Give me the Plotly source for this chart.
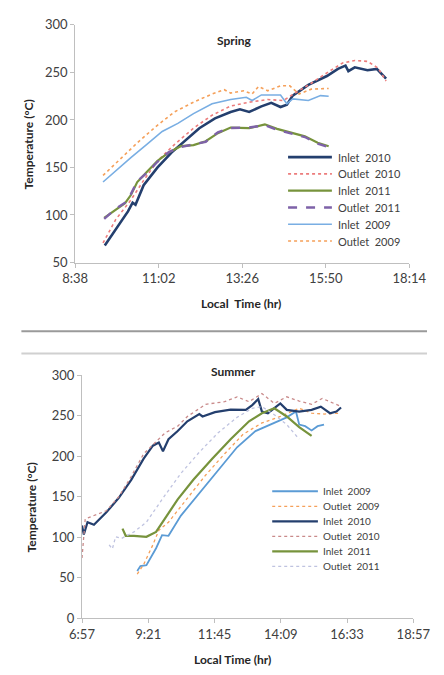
import plotly.graph_objects as go

# ---------------- DATA ----------------
# Spring
sp_in10_t = ["9:29","9:48","10:09","10:17","10:22","10:36","11:00","11:24","11:46","12:12","12:39","13:06","13:22","13:38","13:59","14:16","14:32","14:43","14:53","15:20","15:52","16:11","16:24","16:29","16:40","17:02","17:18","17:34"]
sp_in10_v = [67.8,85,103.8,113,110.7,131.3,150,165.6,177.6,191.3,201.6,208.4,211.2,208.4,214.3,218,213.6,216,225.6,236.9,246.2,253.7,257.1,251.3,255.4,252.3,253.7,243.4]

sp_out10_t = ["9:26","9:48","10:14","10:36","11:00","11:29","12:02","12:34","13:06","13:38","14:10","14:37","14:59","15:25","15:52","16:19","16:40","17:02","17:20","17:34"]
sp_out10_v = [70.6,95.3,115.8,136.4,157,174.1,191.3,205,214.6,218.7,221.5,220.4,229,238.6,249.6,259.9,262.6,261.6,254.7,241]

sp_in11_t = ["9:28","9:48","10:04","10:14","10:25","10:41","11:00","11:19","11:40","12:02","12:23","12:44","13:06","13:38","14:05","14:26","14:53","15:14","15:36","15:55"]
sp_in11_v = [97,105.6,112.4,121,134.7,145,157,165.6,172.4,173.5,177.6,186.1,192,191.3,195.4,190.6,186.1,182.7,175.9,172.4]

sp_out11_t = ["9:28","9:48","10:04","10:14","10:25","10:41","11:00","11:19","11:40","12:02","12:23","12:44","13:06","13:38","14:05","14:26","14:53","15:14","15:36","15:55"]
sp_out11_v = [96,106.5,113,122,135.5,144,156,166,171.5,174,177,187,191.5,192,194.5,189.5,185,182,175,171.5]

sp_in09_t = ["9:26","9:48","10:14","10:41","11:08","11:35","12:02","12:34","13:06","13:33","13:43","13:59","14:32","14:43","14:53","15:20","15:41","15:55"]
sp_in09_v = [134.7,146.7,160.4,174.1,187.9,196.4,206.7,217,221.5,223.9,220.4,226.3,226.3,217,222.2,220.4,225.6,224.9]

sp_out09_t = ["9:26","9:53","10:25","10:57","11:29","12:02","12:34","12:55","13:06","13:28","13:43","13:54","14:10","14:32","14:48","15:04","15:25","15:55"]
sp_out09_v = [141.6,157,175.9,193,208.4,218.7,227.3,231.8,228.3,230.7,227.3,235.2,230.7,235.9,235.9,227.3,232.4,233.1]

# Summer
su_in09_t = ["8:57","9:04","9:17","9:38","9:51","10:05","10:32","11:12","11:53","12:34","13:14","13:55","14:22","14:42","14:49","15:02","15:16","15:29","15:43"]
su_in09_v = [58.6,64.6,65.8,86.6,102.7,101.9,126.8,154.8,182.9,211,231,241,247.9,255.1,239,237,231.8,237,239]

su_out09_t = ["8:57","9:11","9:31","9:44","10:05","10:46","11:26","12:07","12:47","13:28","14:08","14:49","15:16","15:43","16:16"]
su_out09_v = [54.6,66.6,90.7,108.7,118.7,148.8,176.9,203,227,241,249,259.1,253,252,253]

su_in10_t = ["6:57","7:01","7:09","7:23","7:50","8:17","8:44","9:11","9:31","9:44","9:53","10:05","10:25","10:46","11:12","11:19","11:46","12:20","12:53","13:07","13:20","13:28","13:41","14:08","14:22","14:49","15:16","15:36","15:56","16:10","16:20"]
su_in10_v = [114.7,103.5,118.7,115.5,130.8,148.8,170.9,197,213,217,206.2,221,231,243,251.9,249,254.3,257.5,257.1,263,270.4,255.1,253,265.1,257.1,255.1,257.1,261.1,253,255.1,260]

su_out10_t = ["6:57","7:04","7:50","8:17","8:44","9:11","9:58","10:25","10:46","11:26","12:07","12:34","13:00","13:28","13:55","14:22","14:49","15:16","15:39","16:16"]
su_out10_v = [74.6,122.7,132.8,150,175,203,229,237,249,264,267.2,273.2,267.2,277.2,265.1,273.2,268,264,271.2,262.3]

su_in11_t = ["8:25","8:32","8:50","9:17","9:38","9:58","10:25","10:59","11:40","12:20","13:00","13:28","13:55","14:22","14:49","15:16"]
su_in11_v = [110.7,101.9,101.9,100.7,106.7,123.5,146.8,170.9,197,221,243,253,259.1,249,235.9,225]

su_out11_t = ["7:56","8:03","8:10","8:23","8:50","9:17","9:51","10:32","11:12","11:53","12:34","13:07","13:28","13:55","14:22","14:49"]
su_out11_v = [90.7,85.8,100.7,98.7,106.7,118.7,146.8,178.9,205,229,247.9,259.1,261.1,251.1,239,221]

sp_ticks = ["8:38","11:02","13:26","15:50","18:14"]
su_ticks = ["6:57","9:21","11:45","14:09","16:33","18:57"]


def hrs(lst):
    out = []
    for s in lst:
        h, m = s.split(":")
        out.append(int(h) + int(m) / 60.0)
    return out


FONT = "Lato"
TXT = "#404040"
fig = go.Figure()

NAVY = "#243F6E"
GREEN = "#77933C"

W, H = 444, 675
def px(x): return x / W
def py(y): return 1 - y / H

# Spring traces (legend order)
spring = [
    ("Inlet\u00a0 2010", sp_in10_t, sp_in10_v, dict(color=NAVY, width=2.6, dash="solid")),
    ("Outlet\u00a0 2010", sp_out10_t, sp_out10_v, dict(color="#EC7C7C", width=1.6, dash="dot")),
    ("Inlet\u00a0 2011", sp_in11_t, sp_in11_v, dict(color=GREEN, width=2.2, dash="solid")),
    ("Outlet\u00a0 2011", sp_out11_t, sp_out11_v, dict(color="#7E62A8", width=2.4, dash="dash")),
    ("Inlet\u00a0 2009", sp_in09_t, sp_in09_v, dict(color="#79AEE3", width=1.6, dash="solid")),
    ("Outlet\u00a0 2009", sp_out09_t, sp_out09_v, dict(color="#F5A05A", width=1.6, dash="dot")),
]
summer = [
    ("Inlet\u00a0 2009", su_in09_t, su_in09_v, dict(color="#5B9BD5", width=1.8, dash="solid")),
    ("Outlet\u00a0 2009", su_out09_t, su_out09_v, dict(color="#F5A05A", width=1.3, dash="dot")),
    ("Inlet\u00a0 2010", su_in10_t, su_in10_v, dict(color=NAVY, width=2.2, dash="solid")),
    ("Outlet\u00a0 2010", su_out10_t, su_out10_v, dict(color="#C98A8A", width=1.3, dash="dot")),
    ("Inlet\u00a0 2011", su_in11_t, su_in11_v, dict(color=GREEN, width=2.2, dash="solid")),
    ("Outlet\u00a0 2011", su_out11_t, su_out11_v, dict(color="#BFC3E0", width=1.3, dash="dot")),
]

for name, t, v, ln in spring:
    fig.add_trace(go.Scatter(x=hrs(t), y=v, mode="lines", name=name, line=ln,
                             xaxis="x", yaxis="y", showlegend=False))
for name, t, v, ln in summer:
    fig.add_trace(go.Scatter(x=hrs(t), y=v, mode="lines", name=name, line=ln,
                             xaxis="x2", yaxis="y2", showlegend=False))

# compact legends (line sample + label), spaced like the original
def add_legend(entries, x0, x1, xt, y0, dy, fsize):
    for i, (name, _t, _v, ln) in enumerate(entries):
        y = y0 + dy * i
        fig.add_shape(type="line", xref="paper", yref="paper",
                      x0=px(x0), x1=px(x1), y0=py(y), y1=py(y),
                      line=dict(color=ln["color"], width=ln["width"], dash=ln["dash"]))
        fig.add_annotation(text=name, x=px(xt), y=py(y), xref="paper", yref="paper",
                           showarrow=False, xanchor="left", yanchor="middle",
                           font=dict(family=FONT, size=fsize, color=TXT))

add_legend(spring, 295, 342, 346, 152.7, 17.2, 11)
add_legend(summer, 278, 327, 330, 495, 15.4, 10)

axis_common = dict(showgrid=False, zeroline=False, showline=True, linecolor="#BFBFBF",
                   linewidth=1, ticks="outside", ticklen=4, tickcolor="#BFBFBF",
                   tickfont=dict(family=FONT, size=13, color=TXT))

sp_tv = hrs(sp_ticks)
su_tv = hrs(su_ticks)

fig.update_layout(
    width=W, height=H, margin=dict(l=0, r=0, t=0, b=0),
    paper_bgcolor="white", plot_bgcolor="white",
    font=dict(family=FONT, color=TXT),
    xaxis=dict(domain=[px(66.7), px(425)], range=[sp_tv[0], sp_tv[-1]], anchor="y",
               tickvals=sp_tv, ticktext=sp_ticks, **axis_common),
    yaxis=dict(domain=[py(260.7), py(17.3)], range=[50, 300], dtick=50, anchor="x",
               **axis_common),
    xaxis2=dict(domain=[px(74), px(429.3)], range=[su_tv[0], su_tv[-1]], anchor="y2",
                tickvals=su_tv, ticktext=su_ticks, **axis_common),
    yaxis2=dict(domain=[py(625.3), py(376)], range=[0, 300], dtick=50, anchor="x2",
                **axis_common),
    showlegend=False,
)

ann = [
    dict(text="<b>Spring</b>", x=px(238), y=py(33), size=12),
    dict(text="<b>Local  Time (hr)</b>", x=px(245), y=py(303), size=12),
    dict(text="<b>Summer</b>", x=px(237), y=py(372), size=12),
    dict(text="<b>Local Time (hr)</b>", x=px(235), y=py(667), size=12),
]
for a in ann:
    fig.add_annotation(text=a["text"], x=a["x"], y=a["y"], xref="paper", yref="paper",
                       showarrow=False, xanchor="center", yanchor="middle",
                       font=dict(family=FONT, size=a["size"], color="#262626"))
fig.add_annotation(text="<b>Temperature (°C)</b>", x=px(17), y=py(140), xref="paper", yref="paper",
                   showarrow=False, textangle=-90, xanchor="center", yanchor="middle",
                   font=dict(family=FONT, size=12, color="#262626"))
fig.add_annotation(text="<b>Temperature (°C)</b>", x=px(20), y=py(512), xref="paper", yref="paper",
                   showarrow=False, textangle=-90, xanchor="center", yanchor="middle",
                   font=dict(family=FONT, size=12, color="#262626"))

# separator lines between the two panels
fig.add_shape(type="line", xref="paper", yref="paper", x0=px(9), x1=1, y0=py(331), y1=py(331),
              line=dict(color="#9A9A9A", width=2))
fig.add_shape(type="line", xref="paper", yref="paper", x0=px(9), x1=1, y0=py(354), y1=py(354),
              line=dict(color="#D0D0D0", width=2))

fig.write_html("out.html")
